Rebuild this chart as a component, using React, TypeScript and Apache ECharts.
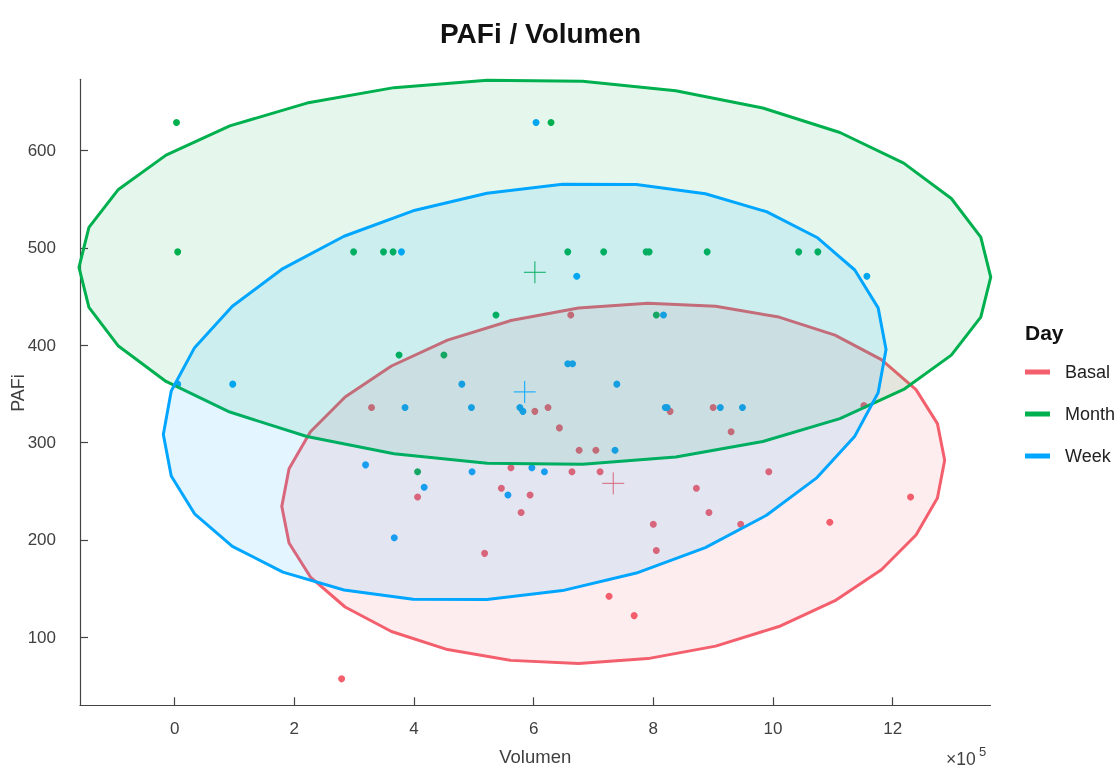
import React, { useEffect, useRef } from 'react';
import * as echarts from 'echarts';

const groups = ['Basal', 'Month', 'Week'];
const colors = ['#F35F6C', '#00B04F', '#00A6FF'];
const fills = ['rgba(243,95,108,0.11)', 'rgba(0,176,79,0.10)', 'rgba(0,166,255,0.11)'];

const basalX = [662000, 329000, 602000, 624000, 828000, 900000, 1152000, 643000, 676000, 704000, 562000, 664000, 711000, 546000, 594000, 406000, 579000, 518000, 800000, 805000, 726000, 768000, 279000, 930000, 993000, 872000, 893000, 946000, 1095000, 1230000];
const basalY = [431, 336, 332, 336, 332, 336, 338, 315, 292, 292, 274, 270, 270, 253, 246, 244, 228, 186, 216, 189, 142, 122, 57, 311, 270, 253, 228, 216, 218, 244];

const monthX = [3000, 629000, 5000, 299000, 349000, 365000, 657000, 717000, 788000, 793000, 890000, 1043000, 1075000, 537000, 805000, 375000, 450000, 406000];
const monthY = [629, 629, 496, 496, 496, 496, 496, 496, 496, 496, 496, 496, 496, 431, 431, 390, 390, 270];

const weekX = [604000, 379000, 672000, 1157000, 817000, 657000, 665000, 480000, 739000, 97000, 5000, 385000, 496000, 577000, 582000, 820000, 823000, 912000, 949000, 736000, 497000, 597000, 618000, 417000, 557000, 367000, 319000];
const weekY = [629, 496, 471, 471, 431, 381, 381, 360, 360, 360, 360, 336, 336, 336, 332, 336, 336, 336, 336, 292, 270, 274, 270, 254, 246, 202, 277];

// ellipse: centre x, centre y, x half-extent, y offset at x-extreme, y half-extent
const ellipseCX = [733000, 602000, 585000];
const ellipseCY = [258, 475, 352];
const ellipseDX = [554000, 762000, 604000];
const ellipseDYX = [23.7, -5.1, 43.7];
const ellipseDY = [185.2, 198, 214.5];
const ELLIPSE_SEGMENTS = 30;

const xTicks = [0, 200000, 400000, 600000, 800000, 1000000, 1200000];
const yTicks = [100, 200, 300, 400, 500, 600];
const X_MIN = -158300;
const X_MAX = 1363600;
const Y_MIN = 29.8;
const Y_MAX = 673.4;

const FONT = 'Liberation Sans';

function ellipseVerts(i: number): number[][] {
  const cx = ellipseCX[i], cy = ellipseCY[i], dx = ellipseDX[i], dyx = ellipseDYX[i], dy = ellipseDY[i];
  const h = Math.sqrt(dy * dy - dyx * dyx);
  const pts: number[][] = [];
  for (let k = 0; k <= ELLIPSE_SEGMENTS; k++) {
    const t = (2 * Math.PI * k) / ELLIPSE_SEGMENTS;
    pts.push([cx + dx * Math.cos(t), cy + dyx * Math.cos(t) + h * Math.sin(t)]);
  }
  return pts;
}

export default function App() {
  const ref = useRef<HTMLDivElement>(null);
  useEffect(() => {
    if (!ref.current) return;
    const chart = echarts.init(ref.current, null, { renderer: 'svg' });
    const xs = [basalX, monthX, weekX];
    const ys = [basalY, monthY, weekY];

    const scatterSeries = groups.map((g, i) => ({
      type: 'scatter',
      name: g,
      symbolSize: 7,
      z: 2,
      itemStyle: { color: colors[i], opacity: 1 },
      data: xs[i].map((x, k) => [x, ys[i][k]]),
    }));

    const ellipseSeries = groups.map((g, i) => {
      const verts = ellipseVerts(i);
      return {
        type: 'custom',
        name: g,
        z: 3,
        coordinateSystem: 'cartesian2d',
        itemStyle: { color: colors[i] },
        data: [[ellipseCX[i], ellipseCY[i]]],
        encode: { x: 0, y: 1 },
        renderItem: (params: any, api: any) => {
          const pts = verts.map((v) => api.coord(v));
          const c = api.coord([ellipseCX[i], ellipseCY[i]]);
          return {
            type: 'group',
            children: [
              { type: 'line', shape: { x1: c[0] - 11, y1: c[1], x2: c[0] + 11, y2: c[1] }, style: { stroke: colors[i], lineWidth: 1 } },
              { type: 'line', shape: { x1: c[0], y1: c[1] - 11, x2: c[0], y2: c[1] + 11 }, style: { stroke: colors[i], lineWidth: 1 } },
              { type: 'polygon', shape: { points: pts }, style: { fill: fills[i], stroke: colors[i], lineWidth: 3, lineJoin: 'round' } },
            ],
          };
        },
      };
    });

    chart.setOption({
      animation: false,
      title: {
        text: 'PAFi / Volumen',
        left: 435,
        top: 14,
        textStyle: { fontFamily: FONT, fontSize: 28, fontWeight: 'bold', color: '#111' },
      },
      grid: { left: 80, right: 129.5, top: 79.3, bottom: 63.7, containLabel: false, outerBoundsMode: 'none' },
      legend: {
        orient: 'vertical',
        left: 1020,
        top: 358,
        icon: 'rect',
        itemWidth: 25,
        itemHeight: 5,
        itemGap: 24,
        itemStyle: { borderWidth: 0 },
        textStyle: { fontFamily: FONT, fontSize: 18, color: '#222', padding: [0, 0, 0, 10] },
        data: groups.map((g, i) => ({ name: g, itemStyle: { color: colors[i] } })),
      },
      graphic: [
        { type: 'text', left: 1025, top: 322, style: { text: 'Day', fontFamily: FONT, fontSize: 21, fontWeight: 'bold', fill: '#111' } },
        { type: 'text', x: 946, y: 759, style: { text: '×10', fontFamily: FONT, fontSize: 17.5, fill: '#404040', verticalAlign: 'middle', align: 'left' } },
        { type: 'text', x: 979, y: 751, style: { text: '5', fontFamily: FONT, fontSize: 13, fill: '#404040', verticalAlign: 'middle', align: 'left' } },
        { type: 'text', x: 18, y: 393, rotation: Math.PI / 2, style: { text: 'PAFi', fontFamily: FONT, fontSize: 18, fill: '#404040', verticalAlign: 'middle', align: 'center' } },
      ],
      xAxis: {
        type: 'value',
        min: X_MIN,
        max: X_MAX,
        name: 'Volumen',
        nameLocation: 'middle',
        nameGap: 42,
        nameTextStyle: { fontFamily: FONT, fontSize: 18.5, color: '#404040' },
        axisLine: { show: true, onZero: false, lineStyle: { color: '#444', width: 1.2 } },
        axisTick: { show: true, inside: true, length: 8, customValues: xTicks, lineStyle: { color: '#444', width: 1.2 } },
        axisLabel: { customValues: xTicks, margin: 15, fontFamily: FONT, fontSize: 17, color: '#404040', formatter: (v: number) => String(Math.round(v / 100000)) },
        splitLine: { show: false },
      },
      yAxis: {
        type: 'value',
        min: Y_MIN,
        max: Y_MAX,
        axisLine: { show: true, onZero: false, lineStyle: { color: '#444', width: 1.2 } },
        axisTick: { show: true, inside: true, length: 8, customValues: yTicks, lineStyle: { color: '#444', width: 1.2 } },
        axisLabel: { customValues: yTicks, margin: 24, fontFamily: FONT, fontSize: 17, color: '#404040' },
        splitLine: { show: false },
      },
      series: [...scatterSeries, ...ellipseSeries],
    });
    return () => chart.dispose();
  }, []);
  return <div ref={ref} style={{ position: 'fixed', left: 0, top: 0, width: 1120, height: 769 }} />;
}
